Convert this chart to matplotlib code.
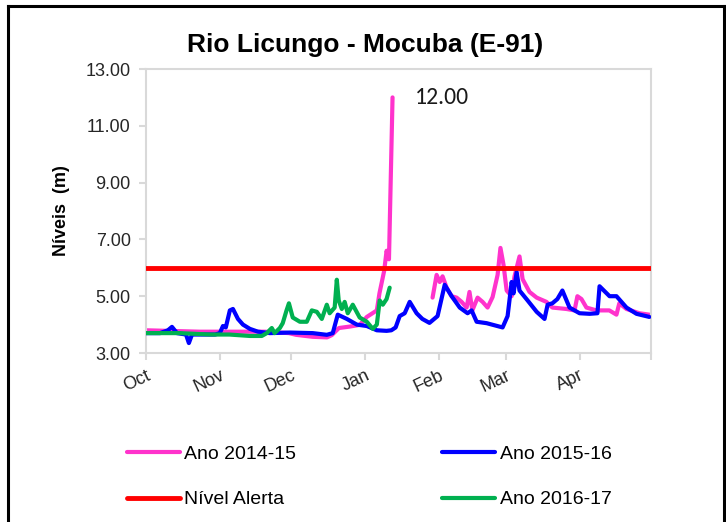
import numpy as np
import matplotlib
matplotlib.use("Agg")
import matplotlib.pyplot as plt
from matplotlib.lines import Line2D
from matplotlib import font_manager

names = {f.name for f in font_manager.fontManager.ttflist}
BASE = 'Liberation Sans' if 'Liberation Sans' in names else 'DejaVu Sans'
ANN = 'Carlito' if 'Carlito' in names else ('Lato' if 'Lato' in names else BASE)
plt.rcParams['font.family'] = [BASE, 'DejaVu Sans']

# ---- data (day offset from 1 Oct, level in m) ----
month_days = [0, 31, 61, 92, 123, 151, 182, 212]
month_labels = ['Oct', 'Nov', 'Dec', 'Jan', 'Feb', 'Mar', 'Apr', '']

d1415 = [0, 22.6, 31, 50, 60, 63, 70, 76, 78, 81, 85.5, 89.7, 92.7, 96.9, 98, 100, 101, 102, 103.5,
         110,
         120.3, 122, 123.3, 124.5, 126.2, 128.3, 130.4, 132.5, 134.6, 135.8, 137, 139.2, 141.3,
         143.4, 145.5, 147.6, 148.8, 150.1, 151.4, 153.5, 154.7, 156.8, 158.1, 161, 164, 168.1,
         170.6, 176.5, 179.9, 181.1, 182.8, 184.9, 189.1, 194.5, 197.5, 198.7, 201.7, 207.1, 211.3]
v1415 = [3.8, 3.75, 3.75, 3.75, 3.7, 3.64, 3.57, 3.55, 3.63, 3.88, 3.93, 3.99, 4.27, 4.5, 5.1, 5.9, 6.6, 6.3, 12.0,
         np.nan,
         4.95, 5.75, 5.5, 5.7, 5.3, 5.0, 4.95, 4.8, 4.6, 5.15, 4.5, 4.95, 4.8,
         4.6, 4.97, 5.75, 6.7, 6.1, 5.2, 5.0, 5.7, 6.4, 5.6, 5.15, 4.95, 4.8,
         4.6, 4.55, 4.5, 5.0, 4.9, 4.6, 4.5, 4.5, 4.35, 4.75, 4.55, 4.4, 4.35]

d1516 = [0, 5.9, 9.2, 10.9, 13, 16.8, 18, 19.3, 29, 31, 32.3, 33.5, 35.2, 36.5, 38.6, 40.7, 43.6,
         47, 52, 60.4, 70, 75.9, 78.4, 80.5, 84.3, 88.5, 92.7, 96.9, 101, 103, 104.8, 106.5, 108.6,
         110.7, 113.6, 116, 119, 122.4, 125.4, 128.3, 131.7, 135, 136.7, 138.8, 143, 149.7, 151.8,
         153.5, 154.3, 155.6, 156.8, 160.2, 164, 167.3, 168.6, 170.6, 172.7, 174.8, 177.8, 182,
         186.2, 189.5, 190.4, 194.6, 197.5, 201.7, 205.9, 211.3]
v1516 = [3.7, 3.7, 3.8, 3.92, 3.7, 3.65, 3.35, 3.65, 3.65, 3.7, 3.95, 3.9, 4.5, 4.55, 4.2, 4.0, 3.85,
         3.75, 3.7, 3.72, 3.7, 3.64, 3.7, 4.35, 4.2, 4.0, 3.95, 3.8, 3.78, 3.8, 3.9, 4.3, 4.4,
         4.8, 4.4, 4.2, 4.06, 4.3, 5.4, 5.0, 4.6, 4.4, 4.5, 4.1, 4.05, 3.9, 4.3,
         5.5, 5.1, 5.85, 5.2, 4.85, 4.45, 4.2, 4.7, 4.75, 4.9, 5.2, 4.6, 4.4,
         4.38, 4.4, 5.35, 5.0, 5.0, 4.6, 4.38, 4.27]

d1617 = [0, 14, 27, 35, 43.6, 48.6, 50.7, 52.8, 54, 56.2, 57.4, 59, 60, 61.6, 64.6, 67.5, 69.6,
         71.7, 73.8, 75.9, 77.1, 79.2, 80.1, 80.9, 82.2, 83.4, 84.7, 86.8, 89.7, 92.7, 95.2, 96.9,
         98.1, 99.4, 101, 102.3]
v1617 = [3.7, 3.7, 3.65, 3.65, 3.6, 3.6, 3.7, 3.88, 3.7, 3.88, 4.05, 4.5, 4.75, 4.25, 4.1, 4.1, 4.5,
         4.45, 4.2, 4.7, 4.4, 4.6, 5.58, 4.85, 4.55, 4.8, 4.4, 4.7, 4.25, 4.1, 3.85, 4.0,
         4.85, 4.7, 4.9, 5.3]

alert_days = [0, 212]
alert_level = [6.0, 6.0]

yticks = [3, 5, 7, 9, 11, 13]

W, H = 726, 522
fig = plt.figure(figsize=(W / 100, H / 100), dpi=100)
ax = fig.add_axes([146 / W, 1 - 353 / H, (651 - 146) / W, (353 - 69) / H])

kw = dict(solid_capstyle='round', solid_joinstyle='round')
ax.plot(d1415, v1415, color='#FF33CC', lw=3.0, label='Ano 2014-15', zorder=2, **kw)
ax.plot(d1516, v1516, color='#0000FF', lw=3.0, label='Ano 2015-16', zorder=3, **kw)
ax.plot(alert_days, alert_level, color='#FF0000', lw=3.5, label='Nível Alerta', zorder=4, **kw)
ax.plot(d1617, v1617, color='#00B050', lw=3.0, label='Ano 2016-17', zorder=5, **kw)

ax.set_xlim(0, 212)
ax.set_ylim(3, 13)
ax.set_yticks(yticks)
ax.set_yticklabels([f'{v:.2f}' for v in yticks], fontsize=13, color='#262626')
ax.set_xticks(month_days)
ax.set_xticklabels(month_labels, fontsize=13, color='#262626', rotation=25,
                   ha='right', va='top', rotation_mode='anchor')
for s in ax.spines.values():
    s.set_color('#D9D9D9')
    s.set_linewidth(1.5)
ax.tick_params(axis='both', colors='#D9D9D9', width=1.5, length=5, labelcolor='#262626')
ax.tick_params(axis='x', pad=5)
ax.tick_params(axis='y', pad=6)

ax.set_ylabel('Níveis  (m)', fontsize=13, fontweight='bold', labelpad=11)
fig.text(365 / W, 1 - 45 / H, 'Rio Licungo - Mocuba (E-91)', fontsize=19, fontweight='bold',
         ha='center', va='center')
ax.annotate('12.00', xy=(103.5, 12.0), xytext=(415 / W, 1 - 98 / H), textcoords='figure fraction',
            fontsize=17, family=[ANN, 'DejaVu Sans'], va='center', ha='left', color='#1a1a1a')

handles, labels = ax.get_legend_handles_labels()
order = [0, 2, 1, 3]
fig.legend([handles[i] for i in order], [labels[i] for i in order], ncol=2, frameon=False,
           loc='upper left', bbox_to_anchor=(127 / W, 1 - 445 / H), borderpad=0, borderaxespad=0,
           fontsize=14, handlelength=2.7, handletextpad=0.25, columnspacing=7.5, labelspacing=1.45)

# outer black frame
for xs, ys in [([8 / W, 8 / W], [0, 1 - 6 / H]), ([8 / W, 724 / W], [1 - 6 / H, 1 - 6 / H]),
               ([724 / W, 724 / W], [1 - 6 / H, 0])]:
    fig.add_artist(Line2D(xs, ys, color='black', lw=2.2, transform=fig.transFigure))

fig.savefig('out.png', dpi=100)
